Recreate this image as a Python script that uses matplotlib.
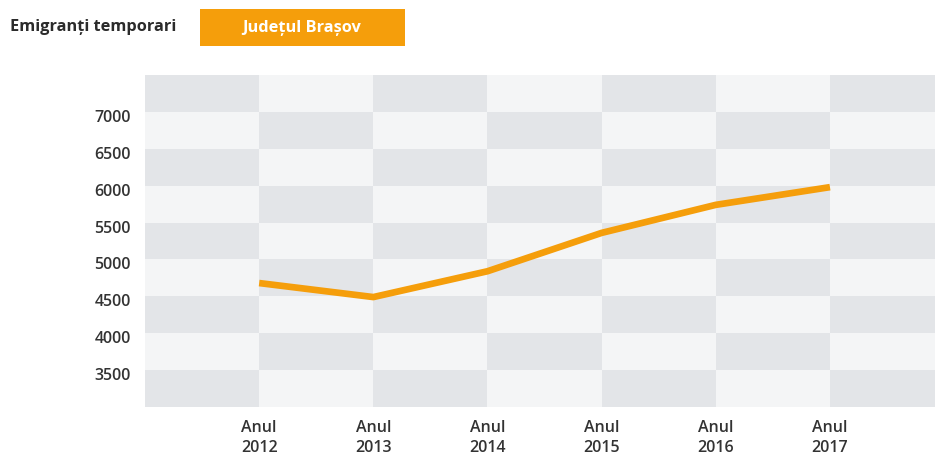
import matplotlib
matplotlib.use("Agg")
import matplotlib.pyplot as plt
import numpy as np
from matplotlib.transforms import ScaledTranslation
from matplotlib.colors import ListedColormap

plt.rcParams['font.family'] = ['Open Sans', 'DejaVu Sans']

years = ["2012", "2013", "2014", "2015", "2016", "2017"]
values = [4680, 4490, 4840, 5360, 5740, 5980]
y_ticks = [3500, 4000, 4500, 5000, 5500, 6000, 6500, 7000]
title = "Emigranți temporari"
badge = "Județul Brașov"

W, H = 935, 454
fig = plt.figure(figsize=(W / 100, H / 100), dpi=100)
ax = fig.add_axes([145 / W, 1 - 407 / H, 1 - 145 / W, (407 - 75) / H])

ymin, ymax, ystep = 3000, 7500, 500
xlo, xhi = -1, 5.92
x = np.arange(len(years))

# checkerboard background
xe = np.arange(-1, 8)
ye = np.arange(ymin, ymax + ystep, ystep)
nrows = len(ye) - 1
ncols = len(xe) - 1
C = np.zeros((nrows, ncols))
for i in range(nrows):
    r = nrows - 1 - i
    for c in range(ncols):
        C[i, c] = 1 if (r + c) % 2 == 0 else 0
cmap = ListedColormap(["#f4f5f6", "#e3e5e8"])
ax.pcolormesh(xe, ye, C, cmap=cmap, vmin=0, vmax=1, shading="flat", zorder=0)

ax.plot(x, values, color="#f59e0b", lw=4.8, solid_capstyle="butt", solid_joinstyle="round", zorder=3)

ax.set_xlim(xlo, xhi)
ax.set_ylim(ymin, ymax)
for s in ax.spines.values():
    s.set_visible(False)
ax.set_yticks(y_ticks)
ax.set_yticklabels([str(v) for v in y_ticks])
ax.set_xticks(x)
ax.set_xticklabels([f"Anul\n{y}" for y in years], linespacing=1.35)
ax.tick_params(axis="both", length=0, labelsize=11.5, labelcolor="#333333")
ax.tick_params(axis="y", pad=10)
ax.tick_params(axis="x", pad=9)
for lab in ax.get_yticklabels() + ax.get_xticklabels():
    lab.set_fontweight(600)
for lab in ax.get_yticklabels():
    lab.set_transform(lab.get_transform() + ScaledTranslation(0, -4 / 100, fig.dpi_scale_trans))

fig.text(10 / W, 1 - 27 / H, title, fontsize=11.8, fontweight="bold", color="#2b2b2b", va="center", ha="left")
fig.patches.append(plt.Rectangle((200 / W, 1 - 46 / H), 205 / W, 37 / H, transform=fig.transFigure,
                                 facecolor="#f59e0b", edgecolor="none"))
fig.text(302 / W, 1 - 28 / H, badge, fontsize=11.8, fontweight="bold", color="white", va="center", ha="center")

fig.savefig("out.png", dpi=100)
